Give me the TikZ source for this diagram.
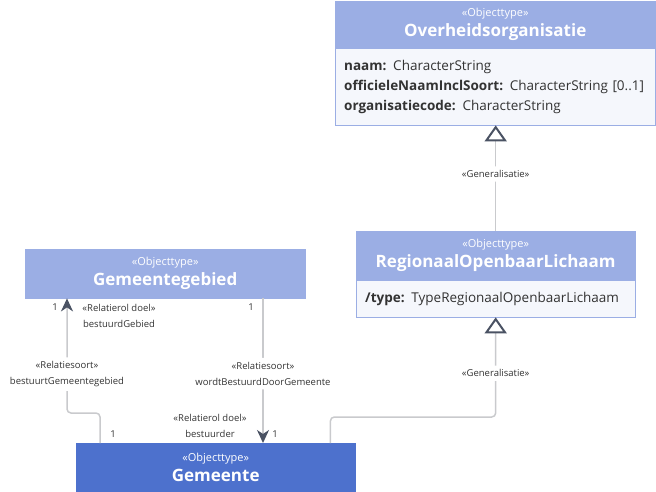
\documentclass[tikz,border=0pt]{standalone}
\usepackage{fontspec}
\setmainfont{Open Sans}
\usetikzlibrary{arrows.meta}
\definecolor{kop}{HTML}{9BAEE4}
\definecolor{romp}{HTML}{F5F7FC}
\definecolor{gemkleur}{HTML}{4D71CD}
\definecolor{lijn}{HTML}{C9CACD}
\definecolor{punt}{HTML}{4A5263}
\definecolor{tekst}{HTML}{333333}
\newcommand{\stereo}[1]{{\fontsize{11}{13}\selectfont\mdseries«#1»}}

\begin{document}
\begin{tikzpicture}[x=1pt,y=-1pt,
  kop/.style={rectangle,fill=kop,draw=kop,text=white,align=center,inner sep=0pt,anchor=north west,font=\fontsize{17}{20}\selectfont\bfseries},
  romp/.style={rectangle,fill=romp,draw=kop,text=tekst,align=left,inner xsep=9pt,inner ysep=0pt,anchor=north west,font=\fontsize{13.5}{20}\selectfont},
  lijn/.style={draw=lijn,line width=1.5pt,rounded corners=4pt},
  lbl/.style={text=tekst,font=\fontsize{9.5}{16}\selectfont,align=center,inner xsep=1pt,inner ysep=4pt},
  gen/.style={lijn,-{Triangle[open,width=22pt,length=16pt,line width=2pt,color=punt,fill=white]}},
  ass/.style={lijn,-{Stealth[width=12pt,length=13pt,inset=4pt,color=punt]}}]
\useasboundingbox (0,0) rectangle (656,492);
\node[kop,minimum width=320pt,minimum height=47pt] (ookop) at (335,1) {\stereo{Objecttype}\\Overheidsorganisatie};
\node[romp,text width=302pt,minimum height=77pt] (oorom) at (335,48) {\textbf{naam:} CharacterString\\\textbf{officieleNaamInclSoort:} CharacterString [0..1]\\\textbf{organisatiecode:} CharacterString};
\node[kop,minimum width=279pt,minimum height=49pt] (rolkop) at (356,231) {\stereo{Objecttype}\\RegionaalOpenbaarLichaam};
\node[romp,text width=261pt,minimum height=37pt] (rolrom) at (356,280) {\textbf{/type:} TypeRegionaalOpenbaarLichaam};
\node[kop,minimum width=280pt,minimum height=49pt] (ggkop) at (25,249) {\stereo{Objecttype}\\Gemeentegebied};
\node[kop,fill=gemkleur,draw=gemkleur,minimum width=279pt,minimum height=49pt] (gem) at (76,443) {\stereo{Objecttype}\\Gemeente};
% generalisaties
\draw[gen] (rolkop.north) -- node[lbl,fill=white,pos=0.54] {«Generalisatie»} (rolkop.north |- oorom.south);
\draw[gen] ([xshift=-25pt]gem.north east) -- ++(0,-26) -| node[lbl,fill=white,pos=0.72] {«Generalisatie»} (rolrom.south);
% relaties
\draw[ass] ([xshift=24pt]gem.north west) -- ++(0,-30) -| node[lbl,fill=white,pos=0.67] {«Relatiesoort»\\bestuurtGemeentegebied} ([xshift=42pt]ggkop.south west);
\draw[ass] ([xshift=238pt]ggkop.south west) -- node[lbl,fill=white,pos=0.52] {«Relatiesoort»\\wordtBestuurdDoorGemeente} ([xshift=187pt]gem.north west);
\node[lbl] (m1) at (55,307) {1};
\node[lbl] (r1) at (119,315.5) {«Relatierol doel»\\bestuurdGebied};
\node[lbl] (m2) at (251,307) {1};
\node[lbl] (r2) at (210,426) {«Relatierol doel»\\bestuurder};
\node[lbl] (m3) at (113,434) {1};
\node[lbl] (m4) at (275,434) {1};
\end{tikzpicture}
\end{document}
